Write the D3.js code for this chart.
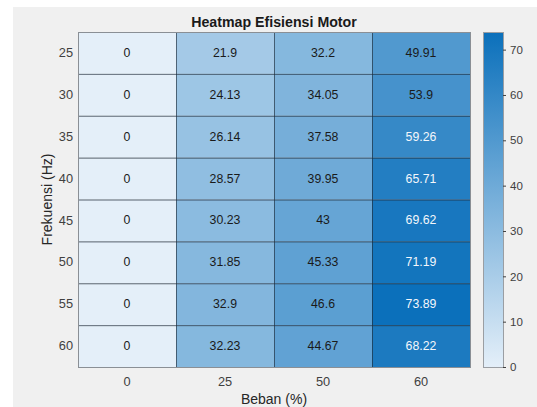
<!DOCTYPE html>
<html>
<head>
<meta charset="utf-8">
<script src="https://cdn.jsdelivr.net/npm/d3@7"></script>
<style>
  html, body { margin: 0; padding: 0; background: #ffffff; }
  svg { display: block; font-family: "Liberation Sans", Arial, Helvetica, sans-serif; }
</style>
</head>
<body>
<svg id="chart" width="537" height="407"></svg>
<script>
// Load levels (columns) and frequencies (rows)
const beban = ["0", "25", "50", "60"];
const frekuensi = ["25", "30", "35", "40", "45", "50", "55", "60"];

// Efficiency per frequency row, one value per load column
const efisiensi = [
  [0, 21.9, 32.2, 49.91],
  [0, 24.13, 34.05, 53.9],
  [0, 26.14, 37.58, 59.26],
  [0, 28.57, 39.95, 65.71],
  [0, 30.23, 43, 69.62],
  [0, 31.85, 45.33, 71.19],
  [0, 32.9, 46.6, 73.89],
  [0, 32.23, 44.67, 68.22]
];

const colorbarTicks = [0, 10, 20, 30, 40, 50, 60, 70];

const svg = d3.select("#chart");
const W = 537, H = 407;

// figure background
svg.append("rect").attr("x", 13).attr("y", 7).attr("width", W - 13).attr("height", H - 7)
  .attr("fill", "#f0f0f0");

const plot = { left: 78, top: 32, right: 470, bottom: 367 };

const x = d3.scaleBand().domain(beban).range([plot.left, plot.right]);
const y = d3.scaleBand().domain(frekuensi).range([plot.top, plot.bottom]);

const allVals = efisiensi.flat();
const vmin = d3.min(allVals), vmax = d3.max(allVals);
const lightC = "#e4eff9", darkC = "#0b70bb";
const color = d3.scaleLinear().domain([vmin, vmax]).range([lightC, darkC])
  .interpolate(d3.interpolateRgb);

const cells = [];
efisiensi.forEach((row, i) => row.forEach((v, j) => cells.push({ f: frekuensi[i], b: beban[j], v })));

const g = svg.append("g");
g.selectAll("rect.cell").data(cells).join("rect")
  .attr("class", "cell")
  .attr("x", d => x(d.b)).attr("y", d => y(d.f))
  .attr("width", x.bandwidth()).attr("height", y.bandwidth())
  .attr("fill", d => color(d.v));

// cell grid lines
g.selectAll("rect.edge").data(cells).join("rect")
  .attr("class", "edge")
  .attr("x", d => x(d.b) + 0.5).attr("y", d => y(d.f) + 0.5)
  .attr("width", x.bandwidth()).attr("height", y.bandwidth())
  .attr("fill", "none").attr("stroke", "#1e2a36").attr("stroke-opacity", 0.4).attr("stroke-width", 1);

// outer border
g.append("rect").attr("x", plot.left + 0.5).attr("y", plot.top + 0.5)
  .attr("width", plot.right - plot.left).attr("height", plot.bottom - plot.top)
  .attr("fill", "none").attr("stroke", "#8a8f95").attr("stroke-width", 1);

// light text on dark cells, dark text elsewhere
function textColor(v) {
  const c = d3.rgb(color(v));
  const lum = 0.299 * c.r + 0.587 * c.g + 0.114 * c.b;
  return lum < 125 ? "#f4f7fb" : "#1a1a1a";
}

g.selectAll("text.val").data(cells).join("text")
  .attr("class", "val")
  .attr("x", d => x(d.b) + x.bandwidth() / 2)
  .attr("y", d => y(d.f) + y.bandwidth() / 2)
  .attr("text-anchor", "middle").attr("dominant-baseline", "central")
  .attr("font-size", 12.3)
  .attr("fill", d => textColor(d.v))
  .text(d => String(d.v));

// axes
const axX = svg.append("g").attr("transform", `translate(0,${plot.bottom})`)
  .call(d3.axisBottom(x).tickSize(0).tickPadding(10));
const axY = svg.append("g").attr("transform", `translate(${plot.left},0)`)
  .call(d3.axisLeft(y).tickSize(0).tickPadding(5));
[axX, axY].forEach(a => {
  a.select(".domain").remove();
  a.selectAll("text").attr("font-size", 12.8).attr("fill", "#404040")
    .attr("font-family", "'Liberation Sans', Arial, sans-serif");
});

// title and axis labels
svg.append("text").attr("x", (plot.left + plot.right) / 2).attr("y", 27)
  .attr("text-anchor", "middle").attr("font-size", 14.2).attr("font-weight", "bold")
  .attr("fill", "#1a1a1a").text("Heatmap Efisiensi Motor");

svg.append("text").attr("x", (plot.left + plot.right) / 2).attr("y", 403.5)
  .attr("text-anchor", "middle").attr("font-size", 14).attr("fill", "#262626")
  .text("Beban (%)");

svg.append("text")
  .attr("transform", `translate(52,${(plot.top + plot.bottom) / 2}) rotate(-90)`)
  .attr("text-anchor", "middle").attr("font-size", 14).attr("fill", "#262626")
  .text("Frekuensi (Hz)");

// colorbar
const cb = { left: 483, right: 503, top: 32, bottom: 367 };
const defs = svg.append("defs");
const grad = defs.append("linearGradient").attr("id", "cbgrad")
  .attr("x1", 0).attr("y1", 1).attr("x2", 0).attr("y2", 0);
grad.append("stop").attr("offset", 0).attr("stop-color", lightC);
grad.append("stop").attr("offset", 1).attr("stop-color", darkC);

svg.append("rect").attr("x", cb.left + 0.5).attr("y", cb.top + 0.5)
  .attr("width", cb.right - cb.left).attr("height", cb.bottom - cb.top)
  .attr("fill", "url(#cbgrad)").attr("stroke", "#9a9ea3").attr("stroke-width", 1);

const cbScale = d3.scaleLinear().domain([vmin, vmax]).range([cb.bottom, cb.top]);
const cbAxis = svg.append("g").attr("transform", `translate(${cb.right},0)`)
  .call(d3.axisRight(cbScale).tickValues(colorbarTicks).tickSize(3).tickPadding(4));
cbAxis.select(".domain").remove();
cbAxis.selectAll("line").attr("stroke", "#404040");
cbAxis.selectAll("text").attr("font-size", 11.5).attr("fill", "#404040")
  .attr("font-family", "'Liberation Sans', Arial, sans-serif");
</script>
</body>
</html>
